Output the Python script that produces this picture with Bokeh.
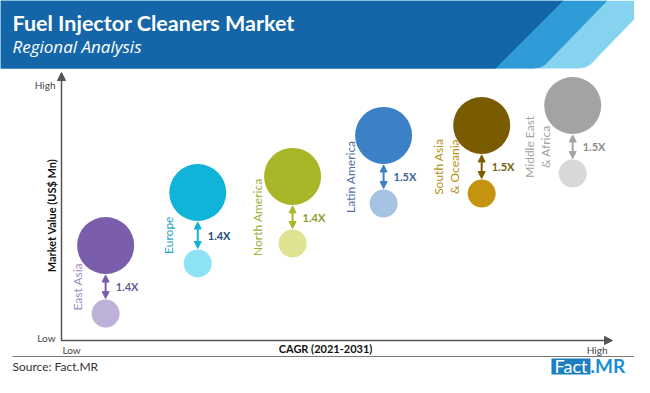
import math
from bokeh.plotting import figure
from bokeh.models import Range1d, ColumnDataSource, Arrow, NormalHead, Label
from bokeh.core.properties import value
from bokeh.embed import file_html
from bokeh.resources import INLINE

# ---------------- data ----------------
regions = ["East Asia", "Europe", "North America", "Latin America",
           "South Asia\n& Oceania", "Middle East\n& Africa"]
cagr_index = [8.1, 25.0, 42.4, 59.1, 77.1, 93.8]          # 0 = Low, 100 = High
value_2031 = [37.1, 57.8, 64.1, 80.1, 84.0, 91.8]         # 0 = Low, 100 = High
value_2021 = [10.5, 30.1, 37.9, 53.5, 57.4, 65.2]
growth = ["1.4X", "1.4X", "1.4X", "1.5X", "1.5X", "1.5X"]
tick_low = "Low"
tick_high = "High"
title = "Fuel Injector Cleaners Market"
subtitle = "Regional Analysis"
x_title = "CAGR (2021-2031)"
y_title = "Market Value (US$ Mn)"
source_note = "Source: Fact.MR"

# ---------------- styles ----------------
big_colors = ["#7A5EAC", "#10B4D8", "#A8B627", "#3C80C5", "#7A5B02", "#A3A3A3"]
small_colors = ["#BDB0D9", "#8EE2F5", "#DDE391", "#A6C3E4", "#C4930F", "#D8D8D8"]
arrow_colors = ["#7A5EAC", "#10B4D8", "#A8B627", "#3C80C5", "#7A5B02", "#A3A3A3"]
growth_colors = ["#6B5B95", "#1F4E79", "#8E9C2A", "#3F6497", "#7A5E0A", "#8C8C8C"]
label_colors = ["#9C8CC5", "#1EA8C8", "#A4AE35", "#4E6EA5", "#B68F10", "#A2A2A2"]
label_dx = [-28, -29, -35, -33, -35, -35]   # px left of bubble centre
BIG, SMALL = 57, 28
FONT = "Lato"

W, H = 634, 377
# pixel geometry of the chart axes
X0, X1 = 61, 606      # Low / High on x axis
Y0, Y1 = 340, 84      # Low / High on y axis
px_x = (X1 - X0) / 100.0
px_y = (Y0 - Y1) / 100.0

p = figure(width=W, height=H, x_range=Range1d(0, W), y_range=Range1d(H, 0),
           output_backend="svg", toolbar_location=None,
           x_axis_type=None, y_axis_type=None, min_border=0,
           outline_line_color=None, background_fill_color="white",
           border_fill_color="white")
p.extra_x_ranges = {"cagr": Range1d((0 - X0) / px_x, (W - X0) / px_x)}
p.extra_y_ranges = {"mv": Range1d((Y0 - H) / px_y, (Y0 - 0) / px_y)}

# ---------------- header banner ----------------
p.patch([0, 652, 590, 585, 578, 0], [0, 0, 64, 67, 68, 68], color="#86D3EF", line_color=None)
p.patch([0, 607, 545, 540, 533, 0], [0, 0, 64, 67, 68, 68], color="#2E9BD6", line_color=None)
p.patch([0, 563, 495, 0], [0, 0, 68, 68], color="#1466A8", line_color=None)

p.add_layout(Label(x=12, y=22, text=title, text_font=FONT, text_font_style="bold",
                   text_font_size="21.5px", text_color="white", text_baseline="middle"))
p.add_layout(Label(x=12, y=46, text=subtitle, text_font="Open Sans", text_font_style="italic",
                   text_font_size="17px", text_color="white", text_baseline="middle"))

# ---------------- axes ----------------
axis_c = "#555555"
p.add_layout(Arrow(end=NormalHead(size=8, fill_color=axis_c, line_color=axis_c),
                   x_start=X0, y_start=Y0 + 0.5, x_end=X0, y_end=72,
                   line_color=axis_c, line_width=1.5))
p.add_layout(Arrow(end=NormalHead(size=8, fill_color=axis_c, line_color=axis_c),
                   x_start=X0 - 0.5, y_start=Y0, x_end=612, y_end=Y0,
                   line_color=axis_c, line_width=1.5))

tick_c = "#444444"
p.add_layout(Label(x=55, y=Y1, text=tick_high, text_font=FONT, text_font_size="10px",
                   text_color=tick_c, text_align="right", text_baseline="middle"))
p.add_layout(Label(x=55, y=337, text=tick_low, text_font=FONT, text_font_size="10px",
                   text_color=tick_c, text_align="right", text_baseline="middle"))
p.add_layout(Label(x=62, y=349, text=tick_low, text_font=FONT, text_font_size="10px",
                   text_color=tick_c, text_align="left", text_baseline="middle"))
p.add_layout(Label(x=607, y=349, text=tick_high, text_font=FONT, text_font_size="10px",
                   text_color=tick_c, text_align="right", text_baseline="middle"))
p.add_layout(Label(x=325, y=348, text=x_title, text_font=FONT, text_font_style="bold",
                   text_font_size="11px", text_color="#111111", text_align="center",
                   text_baseline="middle"))
p.add_layout(Label(x=51, y=215, text=y_title, text_font=FONT, text_font_style="bold",
                   text_font_size="11px", text_color="#111111", text_align="center",
                   text_baseline="middle", angle=math.pi / 2))

# ---------------- bubbles ----------------
src = ColumnDataSource(dict(x=cagr_index, big=value_2031, small=value_2021,
                            big_c=big_colors, small_c=small_colors))
p.scatter(x="x", y="big", size=BIG, fill_color="big_c", line_color=None, source=src,
          x_range_name="cagr", y_range_name="mv")
p.scatter(x="x", y="small", size=SMALL, fill_color="small_c", line_color=None, source=src,
          x_range_name="cagr", y_range_name="mv")

mids = []
for cx, vb, vs, ac in zip(cagr_index, value_2031, value_2021, arrow_colors):
    ys = vs + (SMALL / 2 + 1) / px_y
    ye = vb - (BIG / 2 + 1) / px_y
    mids.append((ys + ye) / 2)
    p.add_layout(Arrow(start=NormalHead(size=7, fill_color=ac, line_color=ac),
                       end=NormalHead(size=7, fill_color=ac, line_color=ac),
                       x_start=cx, y_start=ys, x_end=cx, y_end=ye,
                       line_color=ac, line_width=2,
                       x_range_name="cagr", y_range_name="mv"))

gsrc = ColumnDataSource(dict(x=[c + 10 / px_x for c in cagr_index], y=mids, t=growth,
                             c=growth_colors))
p.text(x="x", y="y", text="t", text_color="c", source=gsrc,
       text_font=value(FONT), text_font_style="bold", text_font_size=value("11px"),
       text_align="left", text_baseline="middle",
       x_range_name="cagr", y_range_name="mv")

lsrc = ColumnDataSource(dict(x=[c + d / px_x for c, d in zip(cagr_index, label_dx)],
                             y=mids, t=regions, c=label_colors))
p.text(x="x", y="y", text="t", text_color="c", source=lsrc, angle=math.pi / 2,
       text_font=value(FONT), text_font_size=value("12px"), text_line_height=1.05,
       text_align="center", text_baseline="middle",
       x_range_name="cagr", y_range_name="mv")

# ---------------- footer (compressed to fit the page) ----------------
p.line([12, 634], [356, 356], line_color="#7A7A7A", line_width=1.2)
p.add_layout(Label(x=12, y=366, text=source_note, text_font=FONT, text_font_size="12px",
                   text_color="#333333", text_baseline="middle"))
p.quad(left=551, right=590, top=358, bottom=374, fill_color="#1E7FC0", line_color=None)
p.add_layout(Label(x=570.5, y=365, text="Fact", text_font=FONT, text_font_size="18px",
                   text_color="white", text_align="center", text_baseline="middle"))
p.add_layout(Label(x=590, y=365, text=".MR", text_font=FONT, text_font_style="bold",
                   text_font_size="19px", text_color="#1A8FD6", text_align="left",
                   text_baseline="middle"))

open("out.html", "w").write(file_html(p, INLINE))
